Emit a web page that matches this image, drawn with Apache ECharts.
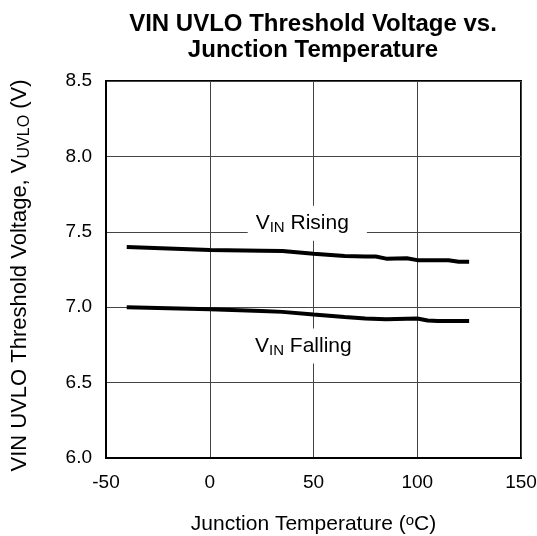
<!DOCTYPE html>
<html>
<head>
<meta charset="utf-8">
<script src="https://cdn.jsdelivr.net/npm/echarts@6/dist/echarts.min.js"></script>
<style>html,body{margin:0;padding:0;background:#fff}#c{width:537px;height:536px}</style>
</head>
<body>
<div id="c"></div>
<script>
const xTicks = [-50, 0, 50, 100, 150];
const yTicks = [6.0, 6.5, 7.0, 7.5, 8.0, 8.5];
const risingTemps = [-40, 0, 25, 35, 50, 65, 75, 80, 85, 95, 100, 115, 120, 125];
const risingVolts = [7.40, 7.38, 7.375, 7.372, 7.355, 7.34, 7.337, 7.336, 7.322, 7.324, 7.312, 7.311, 7.302, 7.302];
const fallingTemps = [-40, 0, 25, 35, 50, 65, 75, 85, 100, 105, 110, 125];
const fallingVolts = [7.00, 6.987, 6.975, 6.969, 6.951, 6.935, 6.925, 6.92, 6.925, 6.912, 6.909, 6.909];
const risingLabelAt = [47, 7.557];
const fallingLabelAt = [47.5, 6.743];

const FONT = 'Liberation Sans, Arial, sans-serif';
const noBorder = {textBorderWidth: 0, textBorderColor: 'transparent', textShadowBlur: 0};
const sub = Object.assign({fontSize: 15, fontFamily: FONT, color: '#000', padding: [10, 0, 0, 0]}, noBorder);
const main = Object.assign({fontSize: 21, fontFamily: FONT, color: '#000'}, noBorder);

const chart = echarts.init(document.getElementById('c'), null, {renderer: 'canvas'});
chart.setOption({
  animation: false,
  backgroundColor: '#fff',
  title: {
    text: 'VIN UVLO Threshold Voltage vs.\nJunction Temperature',
    left: 308, top: 6, textAlign: 'center',
    textStyle: {fontFamily: FONT, fontWeight: 'bold', fontSize: 24, lineHeight: 26, color: '#000'}
  },
  grid: {left: 106, right: 16, top: 81, bottom: 78, outerBoundsMode: 'none', containLabel: false,
    show: true, borderColor: '#000', borderWidth: 2, backgroundColor: 'transparent'},
  xAxis: {
    type: 'value', min: xTicks[0], max: xTicks[xTicks.length - 1], interval: 50,
    name: 'Junction Temperature ({sup|o}C)', nameLocation: 'middle', nameGap: 55,
    nameTextStyle: {fontFamily: FONT, fontSize: 21, color: '#000',
      rich: {sup: {fontSize: 15, fontFamily: FONT, color: '#000', padding: [0, 0, 8, 0]}}},
    axisLine: {show: true, onZero: false, lineStyle: {color: '#000', width: 2}},
    axisTick: {show: false},
    axisLabel: {fontFamily: FONT, fontSize: 19, color: '#000', margin: 15},
    splitLine: {show: true, lineStyle: {color: '#444', width: 1}}
  },
  yAxis: {
    type: 'value', min: yTicks[0], max: yTicks[yTicks.length - 1], interval: 0.5,
    name: 'VIN UVLO Threshold Voltage, V{sub|UVLO} (V)', nameLocation: 'middle', nameGap: 73,
    nameTextStyle: {fontFamily: FONT, fontSize: 22, color: '#000', padding: [0, 12, 0, 0],
      rich: {sub: Object.assign({}, sub, {fontSize: 16})}},
    axisLine: {show: true, onZero: false, lineStyle: {color: '#000', width: 2}},
    axisTick: {show: false},
    axisLabel: {fontFamily: FONT, fontSize: 19, color: '#000', margin: 14, formatter: v => v.toFixed(1)},
    splitLine: {show: true, lineStyle: {color: '#444', width: 1}}
  },
  series: [
    {type: 'line', data: risingTemps.map((t, i) => [t, risingVolts[i]]), symbol: 'none', lineStyle: {color: '#000', width: 4}, z: 3},
    {type: 'line', data: fallingTemps.map((t, i) => [t, fallingVolts[i]]), symbol: 'none', lineStyle: {color: '#000', width: 4}, z: 3},
    {type: 'scatter', symbolSize: 0, z: 5, silent: true, itemStyle: {color: '#000', opacity: 1},
      data: [risingLabelAt],
      label: Object.assign({show: true, position: 'inside', color: '#000', opacity: 1, formatter: '{m|V}{s|IN}{m| Rising}', backgroundColor: '#fff', padding: [5, 18, 5, 8],
        rich: {m: main, s: sub}}, noBorder)},
    {type: 'scatter', symbolSize: 0, z: 5, silent: true, itemStyle: {color: '#000', opacity: 1},
      data: [fallingLabelAt],
      label: Object.assign({show: true, position: 'inside', color: '#000', opacity: 1, formatter: '{m|V}{s|IN}{m| Falling}', backgroundColor: '#fff', padding: [5, 18, 5, 8],
        rich: {m: main, s: sub}}, noBorder)}
  ]
});
</script>
</body>
</html>
